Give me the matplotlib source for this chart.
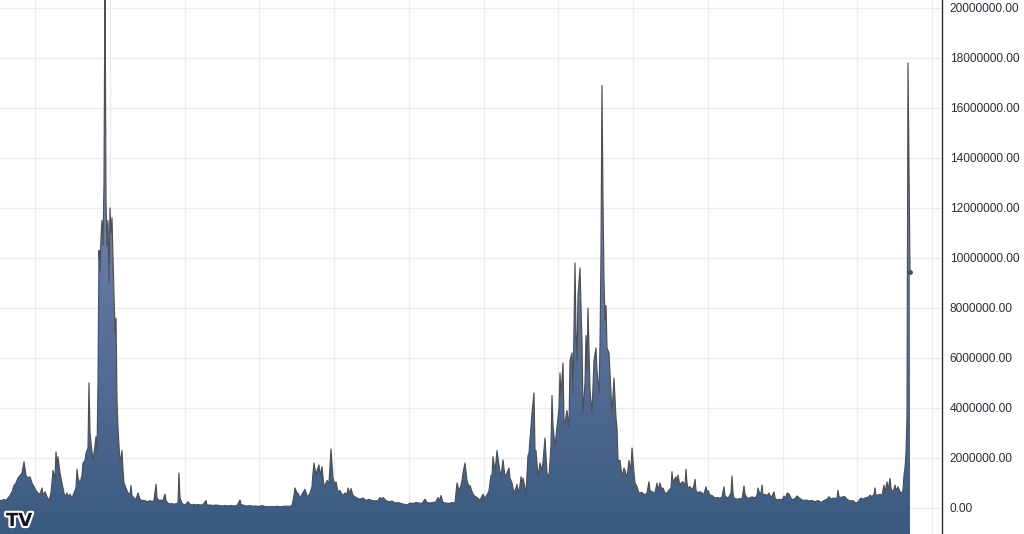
import matplotlib
matplotlib.use("Agg")
import matplotlib.pyplot as plt
import numpy as np
from matplotlib.patches import Polygon
from matplotlib.colors import to_rgb
import matplotlib.patheffects as pe

# ---- data (time index, volume in millions) ----
day = [0,2,4,6,8,10,12,14,16,18,20,22,24,26,28,30,32,34,36,38,40,42,43,45,47,49,51,53,55,56,57,58,60,62,64,65,67,68,70,72,74,76,77,78,80,82,83,85,86,88,89,90,91,93,95,96,97,98,99,100,101,102,103,104,105,106,107,108,109,110,111,112,113,114,115,116,117,118,119,120,121,122,123,124,126,128,130,131,132,134,136,138,140,142,144,146,148,150,152,154,156,157,159,161,163,165,166,168,170,172,174,176,178,179,180,182,184,186,188,190,192,194,196,198,200,203,206,207,210,213,216,219,222,225,228,231,234,237,240,241,244,247,250,253,256,259,262,265,268,271,274,277,280,283,286,289,292,294,295,297,298,300,302,305,307,308,310,312,313,314,316,317,319,320,322,324,326,327,329,331,333,335,336,338,340,342,343,345,347,348,350,351,353,355,357,360,363,366,369,372,375,378,380,382,383,386,389,392,395,398,401,404,407,410,413,416,419,422,425,427,430,433,436,438,440,441,443,446,449,452,455,457,459,461,462,463,465,467,469,470,472,474,477,480,483,485,486,488,489,491,492,493,495,496,497,499,501,503,505,507,509,510,512,514,516,517,518,520,521,522,523,525,526,528,529,531,532,534,535,536,538,540,542,543,545,547,549,551,552,553,555,557,559,560,561,563,564,565,567,569,570,572,573,575,576,577,578,580,582,583,585,586,587,588,590,592,594,596,597,599,600,601,602,603,604,605,606,607,609,611,612,614,616,617,618,620,622,624,625,627,629,631,632,634,635,637,639,642,645,647,649,650,652,655,657,658,660,662,663,665,667,669,671,672,673,674,676,677,678,680,681,683,685,686,687,688,690,692,694,695,696,698,700,702,704,706,707,708,710,712,715,718,720,722,724,725,727,729,731,732,733,734,737,740,742,744,745,747,750,752,755,757,758,759,761,762,763,765,767,769,770,772,774,775,777,780,782,784,786,787,789,791,793,795,797,798,800,803,806,809,812,815,818,821,824,827,829,831,833,835,837,838,839,841,843,845,847,849,851,853,855,857,859,861,863,865,867,869,870,872,874,875,876,878,880,882,884,885,887,888,890,891,892,894,895,896,898,900,902,903,904,905,906,907,908,910]
vol_m = [0.3,0.3,0.35,0.3,0.4,0.5,0.65,0.9,1.0,1.2,1.3,1.4,1.85,1.3,1.2,1.25,1.0,0.85,0.7,0.6,0.55,0.8,0.5,0.65,0.45,0.3,0.6,1.5,1.2,2.25,1.7,2.05,1.4,1.0,0.6,0.45,0.6,0.45,0.55,0.4,0.6,0.8,1.55,1.2,1.0,1.3,1.8,1.9,2.2,2.4,5.0,3.0,2.6,1.9,2.5,2.85,2.2,5.0,10.3,9.5,10.8,11.5,10.5,13.0,21.5,12.3,10.5,11.5,9.0,12.0,11.0,11.6,10.0,8.5,7.0,7.6,4.3,3.2,2.5,1.9,2.0,2.3,1.5,1.0,0.8,0.6,0.55,0.9,0.5,0.4,0.35,0.6,0.35,0.3,0.3,0.28,0.25,0.3,0.25,0.3,0.95,0.4,0.3,0.32,0.3,0.56,0.3,0.2,0.16,0.18,0.15,0.17,0.2,1.4,0.4,0.2,0.12,0.15,0.25,0.15,0.12,0.15,0.12,0.14,0.12,0.13,0.3,0.12,0.12,0.1,0.12,0.1,0.08,0.1,0.08,0.1,0.08,0.1,0.32,0.15,0.1,0.08,0.1,0.07,0.08,0.06,0.1,0.06,0.05,0.06,0.05,0.07,0.05,0.06,0.08,0.06,0.1,0.5,0.8,0.6,0.6,0.4,0.55,0.75,0.5,0.45,0.6,0.85,1.4,1.8,1.3,1.5,1.72,1.3,1.65,0.85,1.0,1.1,1.0,2.36,1.2,0.9,1.05,0.65,0.7,0.55,0.5,0.6,0.55,0.8,0.55,0.78,0.5,0.45,0.4,0.35,0.4,0.3,0.35,0.3,0.28,0.3,0.42,0.35,0.42,0.3,0.25,0.28,0.2,0.22,0.18,0.15,0.12,0.2,0.18,0.22,0.2,0.18,0.35,0.22,0.2,0.22,0.25,0.42,0.3,0.5,0.22,0.2,0.18,0.22,0.2,1.0,0.7,0.9,1.1,1.4,1.8,1.1,0.85,0.9,0.65,0.5,0.42,0.32,0.55,0.4,0.45,0.6,0.7,1.3,1.3,2.05,1.5,1.85,2.3,1.7,1.25,1.92,1.25,1.4,1.6,1.2,1.0,0.6,0.8,0.95,0.6,0.9,1.25,0.9,1.2,0.8,0.6,2.1,2.2,3.25,3.8,4.6,2.3,2.3,1.25,1.8,1.5,1.85,2.8,1.4,1.25,2.5,4.5,3.3,2.45,3.25,4.0,5.4,4.5,5.8,3.5,3.4,3.9,3.2,5.9,6.2,4.6,9.8,7.0,5.9,8.5,9.6,6.6,3.8,5.0,6.9,5.5,8.0,4.7,3.8,5.9,6.4,5.5,4.6,6.5,10.2,16.9,12.3,9.1,7.5,8.1,6.4,6.2,4.6,3.8,5.2,3.6,3.2,1.9,1.9,1.25,1.6,1.5,1.2,1.9,1.5,2.4,1.4,1.0,0.85,0.6,0.62,0.52,0.6,1.05,0.7,0.65,0.6,1.0,0.7,1.0,0.7,0.8,0.6,0.6,0.72,0.8,1.45,1.0,1.12,1.25,0.9,1.32,0.85,1.0,1.05,0.9,1.55,1.0,0.8,0.85,0.72,0.9,1.15,0.7,0.6,0.65,0.6,0.55,0.85,0.6,0.7,0.52,0.5,0.4,0.42,0.38,0.45,0.85,0.5,0.4,0.45,0.6,1.28,0.6,0.4,0.35,0.38,0.35,0.88,0.55,0.4,0.4,0.45,0.4,0.5,0.8,0.65,0.55,0.92,0.5,0.55,0.5,0.6,0.5,0.45,0.65,0.4,0.32,0.35,0.32,0.48,0.4,0.6,0.56,0.4,0.32,0.38,0.48,0.45,0.38,0.3,0.32,0.28,0.3,0.25,0.3,0.22,0.3,0.35,0.45,0.35,0.4,0.38,0.4,0.7,0.45,0.42,0.45,0.45,0.35,0.3,0.28,0.3,0.22,0.2,0.3,0.4,0.35,0.4,0.42,0.45,0.52,0.45,0.55,0.8,0.5,0.52,0.55,0.5,0.92,0.6,1.05,0.7,1.18,0.8,0.65,0.75,0.92,0.7,0.85,0.65,0.6,0.72,1.32,1.6,2.2,3.6,17.8,9.45]

y_ticks = [0, 2e6, 4e6, 6e6, 8e6, 10e6, 12e6, 14e6, 16e6, 18e6, 20e6]

x = np.array(day, dtype=float)
v = np.array(vol_m) * 1e6

W, H = 1024, 534
fig = plt.figure(figsize=(W / 100, H / 100), dpi=100)
fig.patch.set_facecolor("white")
ax = fig.add_axes([0, 0, 942 / W, 1])
ax.set_facecolor("white")

ybot, ytop = -1.04e6, 20.32e6
ax.set_xlim(0, 942)
ax.set_ylim(ybot, ytop)

# grid
grid_c = "#e9eef4"
for gx in 35 + 74.75 * np.arange(13):
    ax.axvline(gx, color=grid_c, lw=1, zorder=0)
for t in y_ticks:
    ax.axhline(t, color=grid_c, lw=1, zorder=0)

# gradient area
top_c = np.array(to_rgb("#8b97c6"))
bot_c = np.array(to_rgb("#3b5a80"))
n = 256
tt = np.linspace(0, 1, n)[:, None]
grad = (top_c[None, :] * (1 - tt) + bot_c[None, :] * tt)[:, None, :]
im = ax.imshow(grad, extent=[0, 942, ybot, ytop], aspect="auto", origin="upper", zorder=1)
verts = np.column_stack([np.r_[x, x[-1], x[0]], np.r_[v, ybot, ybot]])
poly = Polygon(verts, closed=True, facecolor="none", edgecolor="none")
ax.add_patch(poly)
im.set_clip_path(poly)

ax.plot(x, v, color="#4d4f55", lw=0.85, zorder=2)
ax.plot([x[-1]], [v[-1]], "o", color="#4d4f55", ms=2.5, zorder=3)

# axes styling
for s in ["top", "left", "bottom"]:
    ax.spines[s].set_visible(False)
ax.spines["right"].set_color("#2a2e39")
ax.spines["right"].set_linewidth(1)
ax.set_xticks([])
ax.yaxis.tick_right()
ax.set_yticks(y_ticks)
ax.set_yticklabels([f"{t:.2f}" for t in y_ticks], fontfamily="Liberation Sans",
                   fontsize=8.6, color="#2a2e39")
ax.tick_params(axis="y", length=0, pad=5.5)

# logo
fig.text(6 / W, 1 - 521 / H, "TV", fontsize=13, fontweight="heavy", color="#131722",
         va="center", ha="left", fontfamily="DejaVu Sans",
         path_effects=[pe.withStroke(linewidth=3, foreground="white")])

fig.savefig("out.png", dpi=100, facecolor="white")
